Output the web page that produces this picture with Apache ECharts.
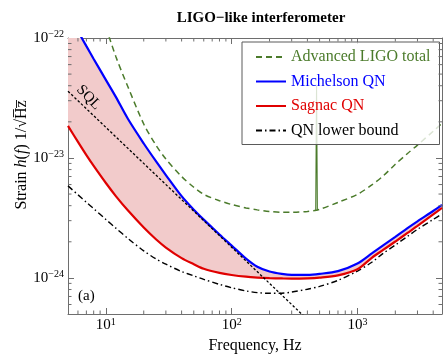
<!DOCTYPE html>
<html>
<head>
<meta charset="utf-8">
<script src="https://cdn.jsdelivr.net/npm/echarts@6/dist/echarts.min.js"></script>
<style>
  html, body { margin: 0; padding: 0; background: #fff; }
  #chart { width: 444px; height: 355px; }
</style>
</head>
<body>
<div id="chart"></div>
<script>
// Frequency grid (Hz) shared by the noise curves
const freqs = [5, 6, 7, 8, 10, 12, 15, 20, 25, 30, 40, 50, 60, 80, 100, 130, 160, 200, 250, 300,
               400, 500, 700, 1000, 1300, 1600, 2000, 2500, 3000, 4000, 4700];

// Strain sensitivities in units of 1e-24 / sqrt(Hz)
const STRAIN_EXP = -24;
const michelsonQN = [161, 114, 85.5, 66.9, 44.8, 32.3, 21.1, 13.2, 9.4, 7.2,
                     4.8, 3.7, 3.06, 2.3, 1.86, 1.45, 1.24, 1.13, 1.08, 1.06,
                     1.06, 1.08, 1.14, 1.32, 1.6, 1.87, 2.2, 2.6, 2.96, 3.61, 4.06];
const sagnacQN = [18.5, 13.6, 10.55, 8.58, 6.18, 4.81, 3.64, 2.63, 2.1, 1.79,
                  1.46, 1.3, 1.19, 1.1, 1.057, 1.023, 1.007, 0.996, 0.989, 0.985,
                  0.99, 1.004, 1.05, 1.18, 1.47, 1.71, 2.01, 2.37, 2.71, 3.38, 3.83];
const qnLowerBound = [5.85, 4.93, 4.27, 3.78, 3.07, 2.6, 2.13, 1.68, 1.44, 1.3,
                      1.13, 1.04, 0.972, 0.883, 0.828, 0.779, 0.754, 0.744, 0.745, 0.762,
                      0.805, 0.849, 0.953, 1.14, 1.35, 1.6, 1.88, 2.22, 2.54, 3.07, 3.41];
const aligoTotal = [null, null, null, null, 124, 70, 39, 19.2, 12.8, 9.8,
                    7.0, 5.7, 4.97, 4.4, 4.09, 3.83, 3.69, 3.58, 3.52, 3.52,
                    3.58, 3.73, 4.26, 4.97, 5.96, 7.08, 8.85, 10.9, 12.8, 16.7, 19.4];

// Suspension violin-mode resonance on the Advanced LIGO curve
const violinFreqs = [466, 473, 480];
const violinStrain = [3.63, 40, 3.66];

// Standard quantum limit (straight line, h ~ 1/f)
const sqlFreqs = [5, 500];
const sqlStrain = [36, 0.36];

// Axis ranges and minor tick positions
const xRange = [5, 4700];
const yRange = [0.5, 100];
const xMinorTicks = [6, 7, 8, 9, 20, 30, 40, 50, 60, 70, 80, 90, 200, 300, 400, 500, 600, 700, 800, 900, 2000, 3000, 4000];
const yMinorTicks = [0.6, 0.7, 0.8, 0.9, 2, 3, 4, 5, 6, 7, 8, 9, 20, 30, 40, 50, 60, 70, 80, 90];

const SERIF = '"Liberation Serif", "DejaVu Serif", serif';
const FRAME = '#6e6e6e';
const GREEN = '#4b7b2b';
const BLUE = '#0000ff';
const RED = '#e00000';

const zip = (xs, ys) => xs.map((x, i) => [x, ys[i]]);

function powerLabel(v, offset) {
  const e = Math.log10(v);
  const r = Math.round(e);
  if (Math.abs(e - r) > 1e-6) return '';
  const p = r + offset;
  return '{b|10}{s|' + (p < 0 ? '\u2212' + (-p) : p) + '}';
}
const labelRich = {
  b: { fontFamily: SERIF, fontSize: 15, color: '#000', lineHeight: 17 },
  s: { fontFamily: SERIF, fontSize: 10, color: '#000', verticalAlign: 'top', lineHeight: 10 }
};

function frameAxis(extra) {
  return Object.assign({
    type: 'log', logBase: 10,
    axisLine: { show: true, lineStyle: { color: FRAME, width: 1 } },
    axisTick: { show: true, inside: true, length: 6, lineStyle: { color: FRAME, width: 1 } },
    minorTick: { show: false },
    splitLine: { show: false },
    axisLabel: { show: false }
  }, extra);
}

const chart = echarts.init(document.getElementById('chart'), null, { renderer: 'canvas' });

chart.setOption({
  animation: false,
  backgroundColor: '#fff',
  title: {
    text: 'LIGO\u2212like interferometer',
    left: 256, top: 6, textAlign: 'center',
    textStyle: { fontFamily: SERIF, fontWeight: 'bold', fontSize: 15, color: '#000' }
  },
  grid: { left: 68, top: 38, right: 2, bottom: 41, containLabel: false, outerBoundsMode: 'none' },
  xAxis: [
    frameAxis({
      min: xRange[0], max: xRange[1], position: 'bottom',
      axisLabel: { show: true, formatter: v => powerLabel(v, 0), rich: labelRich, margin: 3 },
      name: 'Frequency, Hz', nameLocation: 'middle', nameGap: 19,
      nameTextStyle: { fontFamily: SERIF, fontSize: 16, color: '#000' }
    }),
    frameAxis({ min: xRange[0], max: xRange[1], position: 'top' })
  ],
  yAxis: [
    frameAxis({
      min: yRange[0], max: yRange[1], position: 'left',
      axisLabel: { show: true, formatter: v => powerLabel(v, STRAIN_EXP), rich: labelRich, margin: 4 }
    }),
    frameAxis({ min: yRange[0], max: yRange[1], position: 'right' })
  ],
  legend: {
    orient: 'vertical', left: 242, top: 42,
    itemWidth: 30, itemHeight: 12, itemGap: 8.5,
    padding: [7, 9, 6, 13],
    borderColor: '#5a5a5a', borderWidth: 1,
    backgroundColor: 'rgba(255,255,255,0.8)',
    itemStyle: { opacity: 0 },
    textStyle: { fontFamily: SERIF, fontSize: 16 },
    data: [
      { name: 'Advanced LIGO total', textStyle: { color: GREEN } },
      { name: 'Michelson QN', textStyle: { color: BLUE } },
      { name: 'Sagnac QN', textStyle: { color: RED } },
      { name: 'QN lower bound', textStyle: { color: '#000' } }
    ]
  },
  graphic: [
    {
      type: 'text', x: 22, y: 155, rotation: Math.PI / 2,
      style: {
        text: 'Strain {i|h}({i|f}) 1/\u221AH\u0305z\u0305',
        fontFamily: SERIF, fontSize: 16, fill: '#000',
        align: 'center', verticalAlign: 'middle',
        rich: { i: { fontFamily: SERIF, fontSize: 16, fontStyle: 'italic' } }
      }
    },
    {
      type: 'text', left: 78, top: 289,
      style: { text: '(a)', fontFamily: SERIF, fontSize: 15, fill: '#000' }
    }
  ],
  series: [
    {
      // shaded band between the Michelson and Sagnac curves
      type: 'custom', name: 'band', silent: true, clip: true, z: 1,
      data: [[freqs[0], sagnacQN[0]]],
      renderItem: (params, api) => {
        const pts = [];
        for (let i = 0; i < freqs.length; i++) pts.push(api.coord([freqs[i], michelsonQN[i]]));
        for (let i = freqs.length - 1; i >= 0; i--) pts.push(api.coord([freqs[i], sagnacQN[i]]));
        return { type: 'polygon', shape: { points: pts }, style: { fill: '#f2cbcb' } };
      }
    },
    {
      // minor ticks on bottom and top edges
      type: 'custom', name: 'xminor', silent: true, z: 5,
      data: xMinorTicks.map(v => [v, yRange[0]]),
      renderItem: (params, api) => {
        const p = api.coord([api.value(0), api.value(1)]);
        const cs = params.coordSys;
        const st = { stroke: FRAME, lineWidth: 1 };
        return { type: 'group', children: [
          { type: 'line', shape: { x1: p[0], y1: cs.y + cs.height, x2: p[0], y2: cs.y + cs.height - 3.5 }, style: st },
          { type: 'line', shape: { x1: p[0], y1: cs.y, x2: p[0], y2: cs.y + 3.5 }, style: st }
        ] };
      }
    },
    {
      // minor ticks on left and right edges
      type: 'custom', name: 'yminor', silent: true, z: 5,
      data: yMinorTicks.map(v => [xRange[0], v]),
      renderItem: (params, api) => {
        const p = api.coord([api.value(0), api.value(1)]);
        const cs = params.coordSys;
        const st = { stroke: FRAME, lineWidth: 1 };
        return { type: 'group', children: [
          { type: 'line', shape: { x1: cs.x, y1: p[1], x2: cs.x + 3.5, y2: p[1] }, style: st },
          { type: 'line', shape: { x1: cs.x + cs.width, y1: p[1], x2: cs.x + cs.width - 3.5, y2: p[1] }, style: st }
        ] };
      }
    },
    {
      name: 'QN lower bound', type: 'line', data: zip(freqs, qnLowerBound),
      symbol: 'none', smooth: 0.3, z: 3, clip: true, color: '#000',
      lineStyle: { color: '#000', width: 1.4, type: [6, 3, 1.5, 3] }
    },
    {
      name: 'Advanced LIGO total', type: 'line', data: zip(freqs, aligoTotal),
      symbol: 'none', smooth: 0.3, z: 3, clip: true, color: GREEN,
      lineStyle: { color: GREEN, width: 1.5, type: [6, 4] }
    },
    {
      name: 'violin', type: 'line', data: zip(violinFreqs, violinStrain),
      symbol: 'none', z: 3, clip: true, color: GREEN,
      lineStyle: { color: GREEN, width: 1.1 }
    },
    {
      name: 'Sagnac QN', type: 'line', data: zip(freqs, sagnacQN),
      symbol: 'none', smooth: 0.3, z: 3, clip: true, color: RED,
      lineStyle: { color: RED, width: 2.2 }
    },
    {
      name: 'Michelson QN', type: 'line', data: zip(freqs, michelsonQN),
      symbol: 'none', smooth: 0.3, z: 3, clip: true, color: BLUE,
      lineStyle: { color: BLUE, width: 2.2 }
    },
    {
      name: 'SQL', type: 'line', data: zip(sqlFreqs, sqlStrain),
      symbol: 'none', z: 4, clip: true, color: '#000',
      lineStyle: { color: '#000', width: 1.3, type: [2.5, 2] },
      markPoint: {
        symbol: 'circle', symbolSize: 0, silent: true,
        data: [{
          coord: [7.3, 32],
          label: { show: true, position: 'inside', formatter: 'SQL', rotate: -46,
                   fontFamily: SERIF, fontSize: 15, color: '#000' }
        }]
      }
    }
  ]
});
</script>
</body>
</html>
